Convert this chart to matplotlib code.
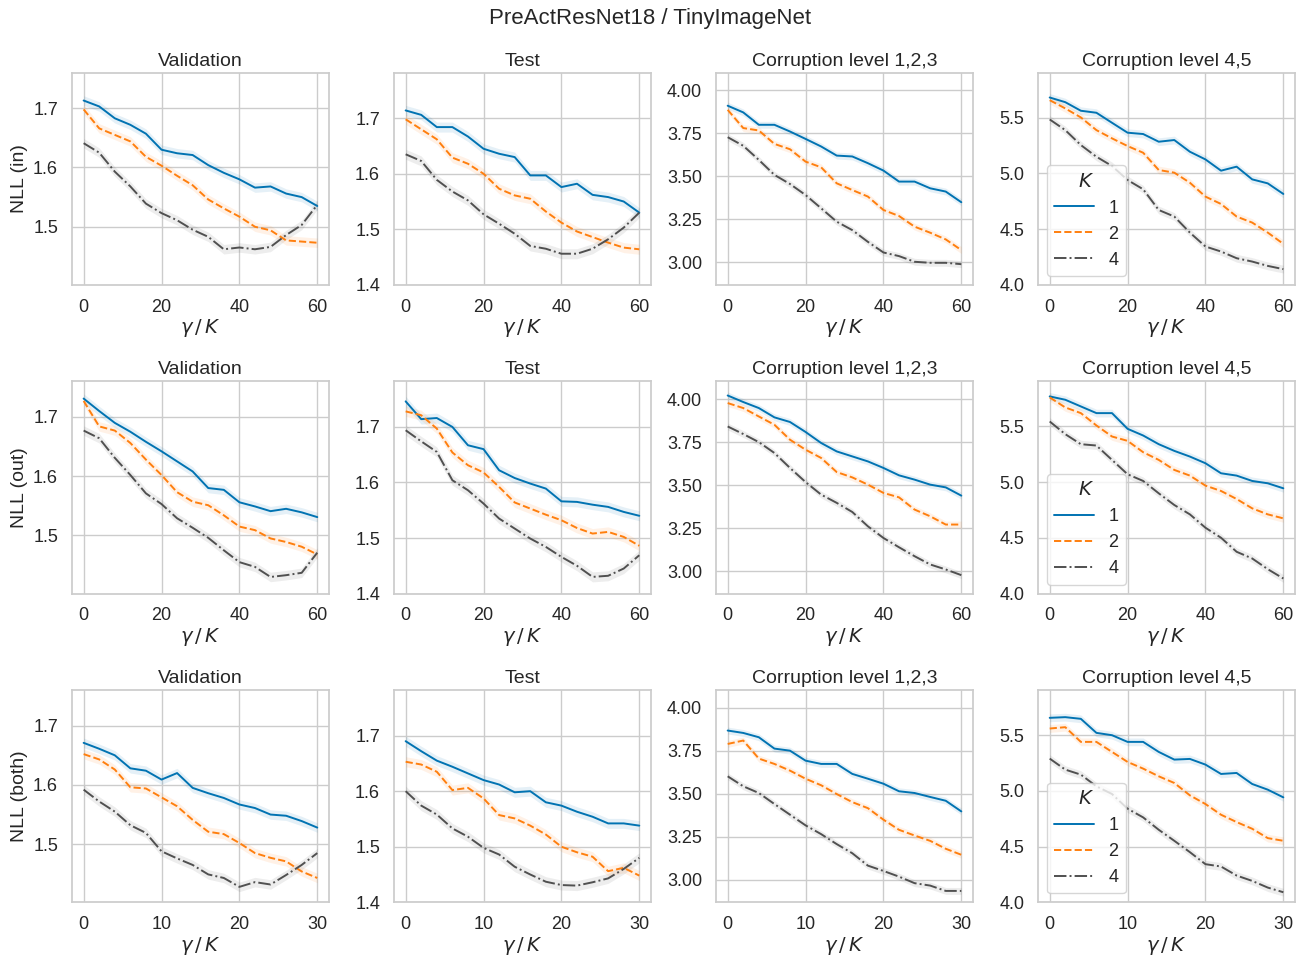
import numpy as np
import matplotlib
matplotlib.use("Agg")
import matplotlib.pyplot as plt
import seaborn as sns

# ==========================
# Data
# ==========================
x_long = [0, 4, 8, 12, 16, 20, 24, 28, 32, 36, 40, 44, 48, 52, 56, 60]
x_short = [0, 2, 4, 6, 8, 10, 12, 14, 16, 18, 20, 22, 24, 26, 28, 30]

ks = ["1", "2", "4"]
row_labels = ["NLL (in)", "NLL (out)", "NLL (both)"]
col_titles = ["Validation", "Test", "Corruption level 1,2,3", "Corruption level 4,5"]

# row 1: NLL (in)
in_val_k1 = [1.713, 1.703, 1.683, 1.672, 1.657, 1.630, 1.624, 1.621, 1.604, 1.591, 1.580, 1.566, 1.568, 1.556, 1.550, 1.535]
in_val_k2 = [1.698, 1.666, 1.655, 1.644, 1.618, 1.603, 1.586, 1.570, 1.546, 1.531, 1.517, 1.500, 1.494, 1.477, 1.475, 1.473]
in_val_k4 = [1.641, 1.625, 1.593, 1.568, 1.539, 1.523, 1.511, 1.495, 1.483, 1.462, 1.465, 1.462, 1.466, 1.486, 1.503, 1.537]

in_test_k1 = [1.714, 1.706, 1.684, 1.684, 1.667, 1.645, 1.636, 1.630, 1.597, 1.597, 1.576, 1.582, 1.562, 1.558, 1.550, 1.530]
in_test_k2 = [1.698, 1.680, 1.662, 1.629, 1.618, 1.600, 1.573, 1.561, 1.555, 1.532, 1.512, 1.496, 1.486, 1.476, 1.467, 1.464]
in_test_k4 = [1.635, 1.623, 1.589, 1.568, 1.552, 1.527, 1.510, 1.492, 1.470, 1.465, 1.456, 1.456, 1.465, 1.482, 1.503, 1.530]

in_c123_k1 = [3.911, 3.872, 3.800, 3.800, 3.761, 3.718, 3.674, 3.621, 3.616, 3.577, 3.534, 3.470, 3.470, 3.431, 3.412, 3.350]
in_c123_k2 = [3.887, 3.781, 3.767, 3.689, 3.658, 3.586, 3.553, 3.460, 3.421, 3.383, 3.305, 3.270, 3.208, 3.173, 3.134, 3.072]
in_c123_k4 = [3.728, 3.678, 3.596, 3.509, 3.456, 3.392, 3.315, 3.237, 3.188, 3.120, 3.058, 3.037, 3.004, 2.998, 2.998, 2.990]

in_c45_k1 = [5.682, 5.640, 5.563, 5.545, 5.455, 5.366, 5.354, 5.285, 5.300, 5.195, 5.126, 5.025, 5.061, 4.947, 4.911, 4.816]
in_c45_k2 = [5.658, 5.584, 5.503, 5.389, 5.315, 5.246, 5.186, 5.031, 5.007, 4.917, 4.792, 4.726, 4.613, 4.559, 4.469, 4.368]
in_c45_k4 = [5.485, 5.389, 5.255, 5.150, 5.067, 4.941, 4.858, 4.672, 4.613, 4.469, 4.344, 4.299, 4.239, 4.209, 4.170, 4.141]

# row 2: NLL (out)
out_val_k1 = [1.731, 1.710, 1.690, 1.675, 1.658, 1.642, 1.625, 1.608, 1.580, 1.577, 1.556, 1.549, 1.541, 1.545, 1.539, 1.531]
out_val_k2 = [1.727, 1.684, 1.677, 1.656, 1.628, 1.602, 1.573, 1.557, 1.551, 1.534, 1.515, 1.509, 1.495, 1.489, 1.481, 1.468]
out_val_k4 = [1.677, 1.664, 1.631, 1.602, 1.571, 1.553, 1.529, 1.513, 1.496, 1.475, 1.455, 1.447, 1.430, 1.433, 1.437, 1.471]

out_test_k1 = [1.746, 1.714, 1.716, 1.700, 1.667, 1.660, 1.622, 1.608, 1.598, 1.589, 1.566, 1.565, 1.560, 1.556, 1.547, 1.540]
out_test_k2 = [1.728, 1.721, 1.697, 1.654, 1.631, 1.618, 1.592, 1.564, 1.553, 1.542, 1.532, 1.518, 1.508, 1.511, 1.502, 1.486]
out_test_k4 = [1.694, 1.674, 1.655, 1.604, 1.586, 1.562, 1.535, 1.517, 1.499, 1.484, 1.466, 1.450, 1.430, 1.432, 1.445, 1.469]

out_c123_k1 = [4.021, 3.983, 3.948, 3.894, 3.867, 3.809, 3.745, 3.696, 3.667, 3.638, 3.600, 3.557, 3.532, 3.503, 3.487, 3.439]
out_c123_k2 = [3.977, 3.948, 3.899, 3.851, 3.764, 3.706, 3.658, 3.576, 3.545, 3.503, 3.455, 3.429, 3.358, 3.319, 3.271, 3.271]
out_c123_k4 = [3.841, 3.797, 3.750, 3.687, 3.600, 3.518, 3.445, 3.397, 3.344, 3.261, 3.193, 3.139, 3.087, 3.039, 3.010, 2.977]

out_c45_k1 = [5.770, 5.740, 5.680, 5.620, 5.620, 5.479, 5.419, 5.341, 5.281, 5.230, 5.170, 5.080, 5.059, 5.011, 4.990, 4.945]
out_c45_k2 = [5.761, 5.671, 5.620, 5.509, 5.410, 5.371, 5.269, 5.200, 5.110, 5.059, 4.969, 4.921, 4.849, 4.765, 4.711, 4.675]
out_c45_k4 = [5.545, 5.431, 5.341, 5.329, 5.200, 5.071, 5.011, 4.900, 4.795, 4.711, 4.591, 4.501, 4.375, 4.315, 4.219, 4.135]

# row 3: NLL (both)
both_val_k1 = [1.671, 1.661, 1.650, 1.628, 1.624, 1.609, 1.620, 1.595, 1.586, 1.578, 1.567, 1.561, 1.550, 1.548, 1.539, 1.528]
both_val_k2 = [1.652, 1.643, 1.626, 1.596, 1.594, 1.579, 1.564, 1.541, 1.521, 1.517, 1.502, 1.485, 1.477, 1.471, 1.454, 1.443]
both_val_k4 = [1.592, 1.572, 1.555, 1.532, 1.519, 1.488, 1.476, 1.465, 1.449, 1.443, 1.428, 1.436, 1.432, 1.448, 1.465, 1.485]

both_test_k1 = [1.690, 1.672, 1.655, 1.644, 1.632, 1.620, 1.612, 1.598, 1.600, 1.580, 1.574, 1.563, 1.554, 1.542, 1.542, 1.538]
both_test_k2 = [1.653, 1.648, 1.635, 1.602, 1.606, 1.587, 1.557, 1.551, 1.538, 1.522, 1.500, 1.490, 1.482, 1.456, 1.462, 1.448]
both_test_k4 = [1.600, 1.574, 1.558, 1.533, 1.518, 1.498, 1.486, 1.464, 1.450, 1.437, 1.431, 1.430, 1.436, 1.443, 1.460, 1.480]

both_c123_k1 = [3.868, 3.854, 3.829, 3.763, 3.751, 3.693, 3.674, 3.674, 3.616, 3.588, 3.559, 3.515, 3.505, 3.482, 3.460, 3.398]
both_c123_k2 = [3.790, 3.810, 3.705, 3.674, 3.635, 3.588, 3.550, 3.499, 3.452, 3.417, 3.350, 3.291, 3.258, 3.227, 3.181, 3.146]
both_c123_k4 = [3.602, 3.544, 3.505, 3.441, 3.379, 3.317, 3.266, 3.208, 3.155, 3.083, 3.052, 3.019, 2.981, 2.967, 2.936, 2.936]

both_c45_k1 = [5.656, 5.662, 5.647, 5.521, 5.500, 5.440, 5.440, 5.350, 5.281, 5.287, 5.236, 5.152, 5.161, 5.062, 5.011, 4.942]
both_c45_k2 = [5.560, 5.572, 5.440, 5.440, 5.350, 5.260, 5.200, 5.131, 5.071, 4.960, 4.882, 4.786, 4.720, 4.660, 4.576, 4.552]
both_c45_k4 = [5.290, 5.191, 5.146, 5.041, 4.972, 4.840, 4.762, 4.651, 4.552, 4.450, 4.342, 4.321, 4.240, 4.192, 4.132, 4.090]

# rough half-width of the shaded spread, per column
band_half = [0.008, 0.009, 0.02, 0.035]

panels = [
    [(in_val_k1, in_val_k2, in_val_k4), (in_test_k1, in_test_k2, in_test_k4),
     (in_c123_k1, in_c123_k2, in_c123_k4), (in_c45_k1, in_c45_k2, in_c45_k4)],
    [(out_val_k1, out_val_k2, out_val_k4), (out_test_k1, out_test_k2, out_test_k4),
     (out_c123_k1, out_c123_k2, out_c123_k4), (out_c45_k1, out_c45_k2, out_c45_k4)],
    [(both_val_k1, both_val_k2, both_val_k4), (both_test_k1, both_test_k2, both_test_k4),
     (both_c123_k1, both_c123_k2, both_c123_k4), (both_c45_k1, both_c45_k2, both_c45_k4)],
]
row_x = [x_long, x_long, x_short]

# ==========================
# Style
# ==========================
sns.set_theme(style="whitegrid")
plt.rcParams["font.family"] = ["Liberation Sans", "DejaVu Sans"]
plt.rcParams["mathtext.fontset"] = "dejavusans"

colors = ["#0173b2", "#ff7f0e", "#505050"]
styles = ["-", "--", "-."]

col_ylim = [(1.402, 1.760), (1.400, 1.782), (2.870, 4.103), (4.000, 5.905)]
col_yticks = [[1.5, 1.6, 1.7], [1.4, 1.5, 1.6, 1.7],
              [3.0, 3.25, 3.5, 3.75, 4.0], [4.0, 4.5, 5.0, 5.5]]
col_fmt = ["%.1f", "%.1f", "%.2f", "%.1f"]

# ==========================
# Plot
# ==========================
fig, axes = plt.subplots(3, 4, figsize=(13.01, 9.56), dpi=100)
fig.subplots_adjust(left=0.0553, right=0.9954, top=0.924, bottom=0.0562,
                    wspace=0.253, hspace=0.455)

for r in range(3):
    xs = np.array(row_x[r])
    for c in range(4):
        ax = axes[r, c]
        for i, ys in enumerate(panels[r][c]):
            ys = np.array(ys)
            ax.fill_between(xs, ys - band_half[c], ys + band_half[c],
                            color=colors[i], alpha=0.1, linewidth=0)
            ax.plot(xs, ys, color=colors[i], linestyle=styles[i],
                    linewidth=1.4, label=ks[i])
        ax.set_title(col_titles[c], fontsize=14, color=".15", pad=5)
        ax.set_xlabel(r"$\gamma\,/\,K$", fontsize=14, color=".15", labelpad=1)
        ax.set_ylim(col_ylim[c])
        ax.set_yticks(col_yticks[c])
        ax.yaxis.set_major_formatter(matplotlib.ticker.FormatStrFormatter(col_fmt[c]))
        if r < 2:
            ax.set_xticks([0, 20, 40, 60])
        else:
            ax.set_xticks([0, 10, 20, 30])
        ax.tick_params(labelsize=13, colors=".15", pad=4)
        for sp in ax.spines.values():
            sp.set_color(".8")
        if c == 0:
            ax.set_ylabel(row_labels[r], fontsize=14, color=".15")
        if c == 3:
            leg = ax.legend(title="$K$", loc="lower left", fontsize=13,
                            title_fontsize=14, handlelength=2.2, frameon=True)
            leg.get_frame().set_edgecolor(".8")

fig.suptitle("PreActResNet18 / TinyImageNet", fontsize=16, y=0.992, color=".15")

plt.savefig("out.png", dpi=100)
